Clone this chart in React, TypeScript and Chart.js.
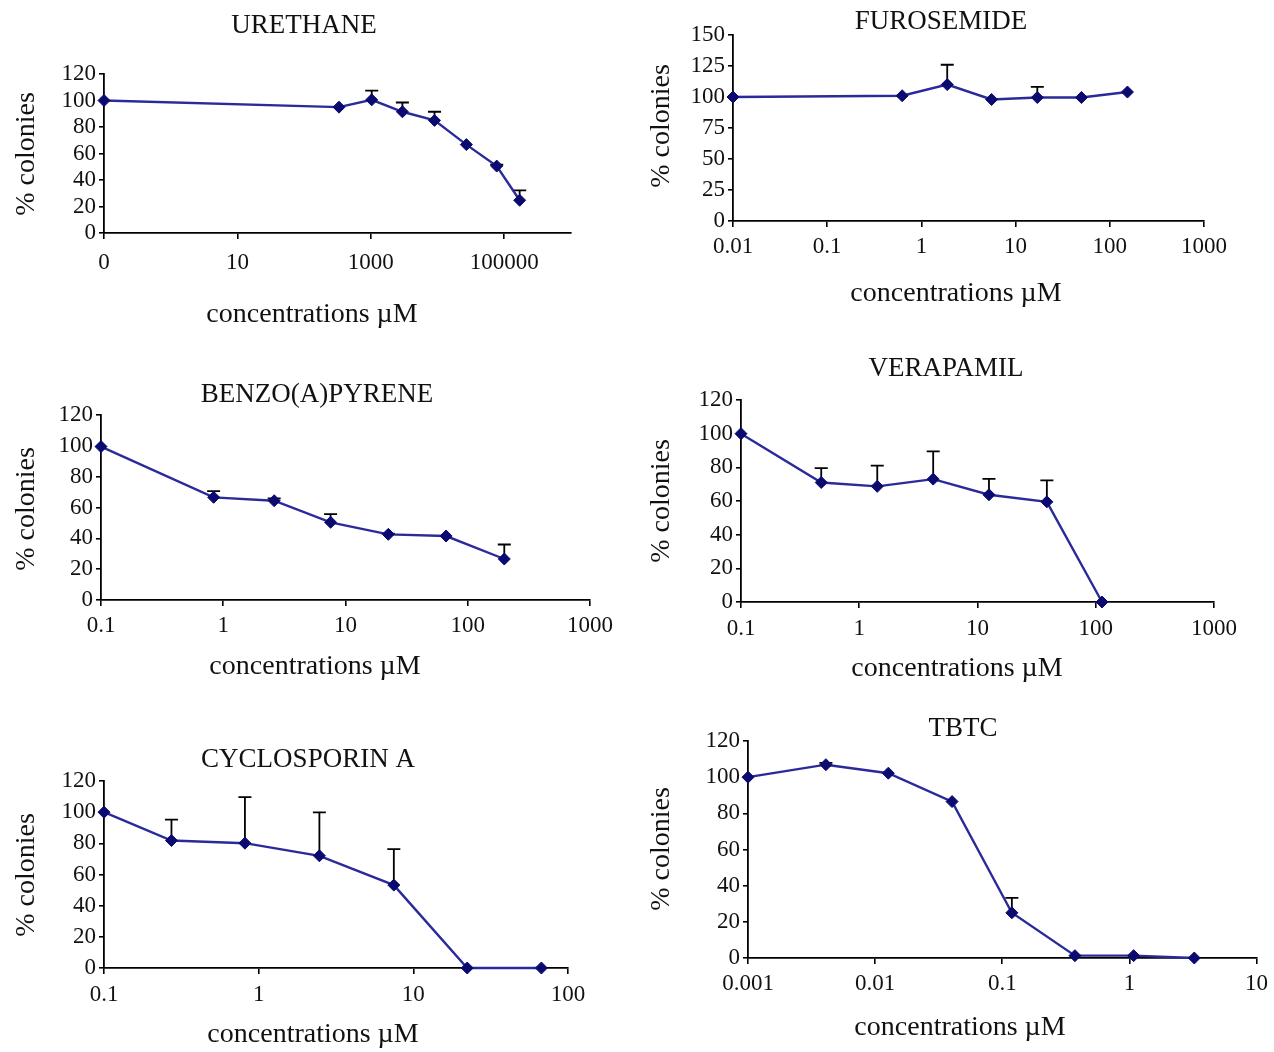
import React, { useEffect, useRef } from "react";
import { Chart, registerables } from "chart.js";

Chart.register(...registerables);

// ---------------- DATA ----------------
// URETHANE
const urethaneConc = [0.1, 333, 1030, 2970, 9000, 27000, 77000, 170000];
const urethaneColonies = [100, 95, 100.5, 91.5, 85, 66.7, 50.5, 24.7];
const urethaneSD = [0, 0, 7, 7, 6.5, 0, 1, 7.5];
const urethaneTicks = [0.1, 10, 1000, 100000];
const urethaneTickLabels = ["0", "10", "1000", "100000"];

// FUROSEMIDE
const furosemideConc = [0.01, 0.625, 1.88, 5.56, 17, 50, 154];
const furosemideColonies = [100, 101, 110, 98, 99.6, 99.6, 104];
const furosemideSD = [0, 0, 16, 0, 8.5, 0, 0];
const furosemideTicks = [0.01, 0.1, 1, 10, 100, 1000];
const furosemideTickLabels = ["0.01", "0.1", "1", "10", "100", "1000"];

// BENZO(A)PYRENE
const benzoConc = [0.1, 0.834, 2.61, 7.55, 22.4, 66.5, 199];
const benzoColonies = [99.5, 66.6, 64.4, 50.4, 42.6, 41.5, 26.6];
const benzoSD = [0, 4, 1.5, 5.3, 0.5, 0, 9.4];
const benzoTicks = [0.1, 1, 10, 100, 1000];
const benzoTickLabels = ["0.1", "1", "10", "100", "1000"];

// VERAPAMIL
const verapamilConc = [0.1, 0.477, 1.42, 4.22, 12.5, 38.6, 113];
const verapamilColonies = [100, 71, 68.7, 73, 63.7, 59.5, 0];
const verapamilSD = [0, 8.5, 12.3, 16.5, 9.4, 12.7, 0];
const verapamilTicks = [0.1, 1, 10, 100, 1000];
const verapamilTickLabels = ["0.1", "1", "10", "100", "1000"];

// CYCLOSPORIN A
const cyclosporinConc = [0.1, 0.273, 0.815, 2.47, 7.48, 22.3, 67.3];
const cyclosporinColonies = [100, 81.8, 80.1, 72, 53.2, 0, 0];
const cyclosporinSD = [0, 13.4, 29.5, 27.9, 23.1, 0, 0];
const cyclosporinTicks = [0.1, 1, 10, 100];
const cyclosporinTickLabels = ["0.1", "1", "10", "100"];

// TBTC
const tbtcConc = [0.001, 0.0041, 0.0127, 0.0403, 0.119, 0.373, 1.08, 3.24];
const tbtcColonies = [100, 106.9, 102.2, 86.5, 25, 1.3, 1.3, 0];
const tbtcSD = [0, 1, 0, 0, 8.3, 0, 0, 0];
const tbtcTicks = [0.001, 0.01, 0.1, 1, 10];
const tbtcTickLabels = ["0.001", "0.01", "0.1", "1", "10"];

const yTitleText = "% colonies";
const xTitleText = "concentrations \u00b5M";

// ---------------- PANELS (data + layout) ----------------
type Panel = {
  title: string;
  conc: number[];
  vals: number[];
  sd: number[];
  ticks: number[];
  tickLabels: string[];
  xMax: number;
  yMax: number;
  yStep: number;
  box: { L: number; R: number; T: number; B: number };
  titlePos: [number, number];
  xTitlePos: [number, number];
  yTitlePos: [number, number];
  xLabelPad: number;
};

const panels: Panel[] = [
  {
    title: "URETHANE",
    conc: urethaneConc, vals: urethaneColonies, sd: urethaneSD,
    ticks: urethaneTicks, tickLabels: urethaneTickLabels,
    xMax: 1000000, yMax: 120, yStep: 20,
    box: { L: 104, R: 571, T: 74, B: 233 },
    titlePos: [304, 26], xTitlePos: [312, 315], yTitlePos: [27, 154],
    xLabelPad: 10,
  },
  {
    title: "FUROSEMIDE",
    conc: furosemideConc, vals: furosemideColonies, sd: furosemideSD,
    ticks: furosemideTicks, tickLabels: furosemideTickLabels,
    xMax: 1000, yMax: 150, yStep: 25,
    box: { L: 733, R: 1204, T: 35, B: 221 },
    titlePos: [941, 22], xTitlePos: [956, 294], yTitlePos: [662, 126],
    xLabelPad: 6,
  },
  {
    title: "BENZO(A)PYRENE",
    conc: benzoConc, vals: benzoColonies, sd: benzoSD,
    ticks: benzoTicks, tickLabels: benzoTickLabels,
    xMax: 1000, yMax: 120, yStep: 20,
    box: { L: 101, R: 590, T: 415, B: 600 },
    titlePos: [317, 395], xTitlePos: [315, 667], yTitlePos: [27, 509],
    xLabelPad: 6,
  },
  {
    title: "VERAPAMIL",
    conc: verapamilConc, vals: verapamilColonies, sd: verapamilSD,
    ticks: verapamilTicks, tickLabels: verapamilTickLabels,
    xMax: 1000, yMax: 120, yStep: 20,
    box: { L: 741, R: 1214, T: 400, B: 602 },
    titlePos: [946, 369], xTitlePos: [957, 669], yTitlePos: [662, 501],
    xLabelPad: 7,
  },
  {
    title: "CYCLOSPORIN A",
    conc: cyclosporinConc, vals: cyclosporinColonies, sd: cyclosporinSD,
    ticks: cyclosporinTicks, tickLabels: cyclosporinTickLabels,
    xMax: 100, yMax: 120, yStep: 20,
    box: { L: 104, R: 568, T: 781, B: 968 },
    titlePos: [308, 760], xTitlePos: [313, 1035], yTitlePos: [27, 875],
    xLabelPad: 7,
  },
  {
    title: "TBTC",
    conc: tbtcConc, vals: tbtcColonies, sd: tbtcSD,
    ticks: tbtcTicks, tickLabels: tbtcTickLabels,
    xMax: 10, yMax: 120, yStep: 20,
    box: { L: 748, R: 1259, T: 741, B: 958 },
    titlePos: [963, 729], xTitlePos: [960, 1028], yTitlePos: [662, 849],
    xLabelPad: 6,
  },
];

const PAGE_W = 1274;
const PAGE_H = 1052;
const Y_AXIS_W = 60;
const X_AXIS_H = 40;
const FONT = '"Liberation Serif", "Times New Roman", serif';
const TEXT_COLOR = "#111111";
const LINE_COLOR = "#2a2a9a";
const MARKER_COLOR = "#0a0a70";

const panelDecor = {
  id: "panelDecor",
  beforeDatasetsDraw(chart: any, _args: any, opts: any) {
    const { ctx } = chart;
    const xs = chart.scales.x;
    const ys = chart.scales.y;
    const conc: number[] = opts.conc;
    const vals: number[] = opts.vals;
    const sd: number[] = opts.sd;
    ctx.save();
    ctx.strokeStyle = "#000";
    ctx.lineWidth = 1.8;
    for (let i = 0; i < conc.length; i++) {
      if (!sd[i]) continue;
      const x = xs.getPixelForValue(conc[i]);
      const y0 = ys.getPixelForValue(vals[i]);
      const y1 = ys.getPixelForValue(vals[i] + sd[i]);
      ctx.beginPath();
      ctx.moveTo(x, y0);
      ctx.lineTo(x, y1);
      ctx.moveTo(x - 6.5, y1);
      ctx.lineTo(x + 6.5, y1);
      ctx.stroke();
    }
    ctx.restore();
  },
  afterDraw(chart: any, _args: any, opts: any) {
    const { ctx } = chart;
    ctx.save();
    ctx.fillStyle = TEXT_COLOR;
    ctx.textAlign = "center";
    ctx.textBaseline = "middle";
    ctx.font = `27px ${FONT}`;
    ctx.fillText(opts.title, opts.titlePos[0], opts.titlePos[1]);
    ctx.font = `28px ${FONT}`;
    ctx.fillText(xTitleText, opts.xTitlePos[0], opts.xTitlePos[1]);
    ctx.translate(opts.yTitlePos[0], opts.yTitlePos[1]);
    ctx.rotate(-Math.PI / 2);
    ctx.fillText(yTitleText, 0, 0);
    ctx.restore();
  },
};

function PanelChart({ p }: { p: Panel }) {
  const ref = useRef<HTMLCanvasElement | null>(null);
  useEffect(() => {
    if (!ref.current) return;
    const { L, R, T, B } = p.box;
    const tickFont = { family: FONT, size: 23 };
    const chart = new Chart(ref.current, {
      type: "line",
      data: {
        datasets: [
          {
            data: p.conc.map((c, i) => ({ x: c, y: p.vals[i] })),
            borderColor: LINE_COLOR,
            borderWidth: 2.4,
            pointStyle: "rectRot",
            pointRadius: 6,
            pointBackgroundColor: MARKER_COLOR,
            pointBorderColor: MARKER_COLOR,
            pointBorderWidth: 1,
            tension: 0,
            clip: false as any,
          },
        ],
      },
      options: {
        responsive: false,
        animation: false,
        devicePixelRatio: 1,
        events: [],
        layout: {
          autoPadding: false,
          padding: {
            left: L - Y_AXIS_W,
            top: T,
            right: PAGE_W - R,
            bottom: PAGE_H - B - X_AXIS_H,
          },
        },
        plugins: {
          legend: { display: false },
          tooltip: { enabled: false },
          title: { display: false },
          panelDecor: {
            title: p.title,
            titlePos: p.titlePos,
            xTitlePos: p.xTitlePos,
            yTitlePos: p.yTitlePos,
            conc: p.conc,
            vals: p.vals,
            sd: p.sd,
          },
        } as any,
        scales: {
          x: {
            type: "logarithmic",
            min: p.ticks[0],
            max: p.xMax,
            bounds: "data",
            afterBuildTicks: (s: any) => {
              s.ticks = p.ticks.map((v) => ({ value: v }));
            },
            afterFit: (s: any) => {
              s.height = X_AXIS_H;
            },
            ticks: {
              autoSkip: false,
              maxRotation: 0,
              minRotation: 0,
              color: TEXT_COLOR,
              font: tickFont,
              padding: p.xLabelPad,
              callback: (value: any) => {
                const v = Number(value);
                const i = p.ticks.findIndex(
                  (t) => Math.abs(Math.log10(t) - Math.log10(v)) < 1e-6
                );
                return i >= 0 ? p.tickLabels[i] : "";
              },
            },
            grid: {
              display: true,
              drawOnChartArea: false,
              drawTicks: true,
              tickLength: 6,
              color: "#000",
              lineWidth: 1.6,
            },
            border: { display: true, color: "#000", width: 1.8 },
          },
          y: {
            type: "linear",
            min: 0,
            max: p.yMax,
            afterFit: (s: any) => {
              s.width = Y_AXIS_W;
            },
            ticks: {
              stepSize: p.yStep,
              autoSkip: false,
              color: TEXT_COLOR,
              font: tickFont,
              padding: 3,
            },
            grid: {
              display: true,
              drawOnChartArea: false,
              drawTicks: true,
              tickLength: 5,
              color: "#000",
              lineWidth: 1.6,
            },
            border: { display: true, color: "#000", width: 1.8 },
          },
        },
      } as any,
      plugins: [panelDecor as any],
    });
    return () => chart.destroy();
  }, [p]);
  return (
    <canvas
      ref={ref}
      width={PAGE_W}
      height={PAGE_H}
      style={{ position: "absolute", left: 0, top: 0, width: PAGE_W, height: PAGE_H }}
    />
  );
}

export default function App() {
  return (
    <div
      style={{
        position: "absolute",
        left: 0,
        top: 0,
        width: PAGE_W,
        height: PAGE_H,
        background: "#fff",
        overflow: "hidden",
      }}
    >
      {panels.map((p) => (
        <PanelChart key={p.title} p={p} />
      ))}
    </div>
  );
}
